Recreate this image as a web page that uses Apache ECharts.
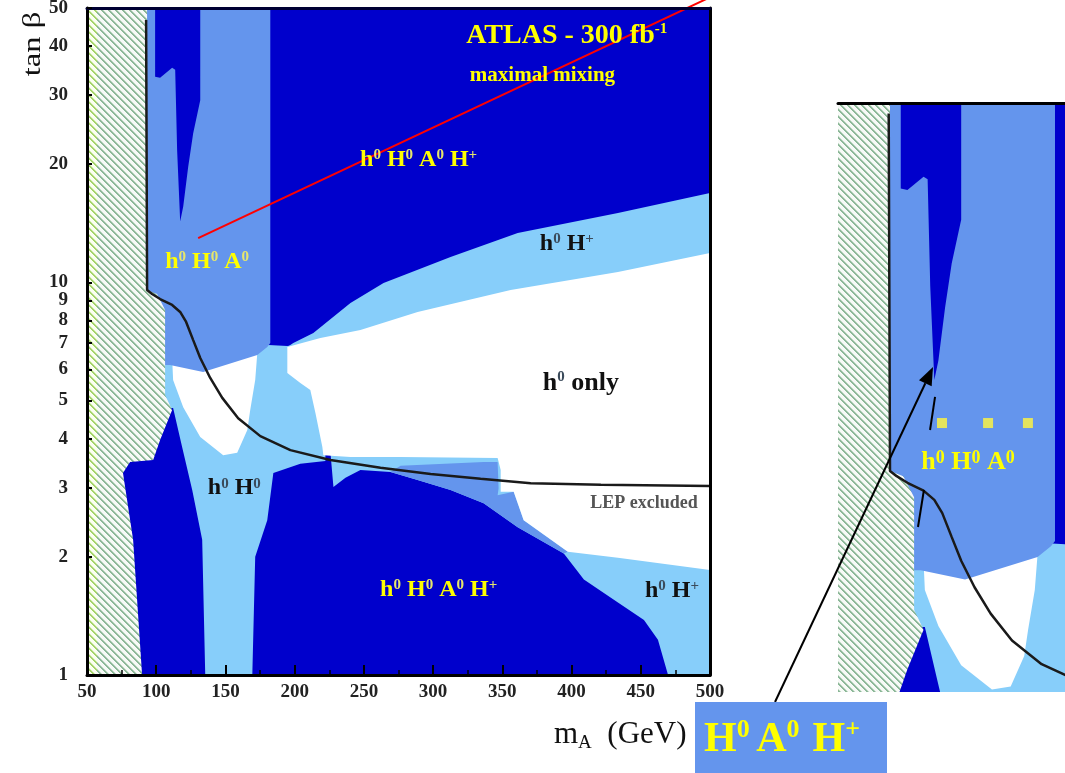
<!DOCTYPE html>
<html><head><meta charset="utf-8">
<script src="https://cdn.jsdelivr.net/npm/echarts@6/dist/echarts.min.js"></script>
<style>html,body{margin:0;padding:0;background:#fff}#c{width:1065px;height:773px}</style>
</head><body><div id="c"></div>
<script>
// ---------------- data (mA in GeV, tan beta) ----------------
const yTickValues = [1,2,3,4,5,6,7,8,9,10,20,30,40,50];

const regionLightUpper = [[500,16.89],[433.5,15.02],[361.1,13.36],[312.6,11.60],[264.2,9.96],[240.3,8.86],[213.5,7.43],[199.0,7.01],[194.7,6.85],[194.7,5.6],[500,5.6]];
const regionLightLeft = [[102.8,6.27],[171.5,6.57],[181.0,6.93],[194.7,6.89],[222.2,7.13],[222.2,3.51],[204.1,3.45],[184.6,3.27],[180.2,2.48],[171.5,2.00],[169.4,1],[135.4,1],[133.2,2.21],[126.0,2.96],[118.7,3.81],[112.2,4.79],[102.8,4.79]];
const regionWhiteLeft = [[111.5,6.4],[173.0,6.6],[171.5,5.64],[167.9,4.73],[165.8,4.21],[158.5,3.68],[148.4,3.63],[131.8,4.04],[119.5,4.81],[112.2,5.64]];
const regionMediumUpper = [[88,50],[182.4,50],[182.4,7.01],[180.2,6.85],[173.0,6.53],[133.9,5.91],[110.0,6.16],[88,6.16]];
const regionDarkSpike = [[99.2,50],[99.2,33.4],[102.8,33.2],[111.5,35.2],[113.7,34.8],[115.1,21.7],[117.3,14.3],[119.5,15.6],[123.1,19.7],[126.7,24.0],[131.8,29.1],[131.8,50]];
const regionLightRight = [[225.8,3.7],[346.6,3.7],[500,3.14],[500,1],[469.7,1],[462.4,1.23],[452.3,1.38],[433.5,1.53],[408.9,1.75],[394.4,2.04],[361.1,2.38],[336.5,2.74],[312.6,2.96],[288.8,3.14],[269.2,3.29],[247.5,3.33],[236.7,3.18],[228.0,3.01]];
const regionMediumSliver = [[276.5,3.41],[336.5,3.49],[346.6,3.49],[347.3,2.99],[346.6,2.87],[358.2,2.93],[365.4,2.48],[397.3,2.06],[394.4,2.04],[361.1,2.38],[336.5,2.74],[312.6,2.96],[288.8,3.14],[269.2,3.29]];
const regionWhite = [[194.7,6.85],[218.6,7.22],[247.5,7.56],[288.8,8.41],[356.0,9.56],[433.5,10.63],[500,11.88],[500,1.85],[433.5,1.99],[397.3,2.06],[365.4,2.48],[358.2,2.93],[348.8,2.93],[348.8,3.33],[346.6,3.57],[276.5,3.59],[240.3,3.59],[220.7,3.63],[220.0,3.81],[215.0,4.65],[211.3,5.32],[204.1,5.54],[194.7,5.88]];
const regionLepHatch = [[50,50],[93.4,50],[93.4,9.56],[100.6,9.34],[106.4,8.51],[106.4,5.17],[111.5,4.73],[102.8,3.97],[97.8,3.53],[81.1,3.49],[76.0,3.27],[83.3,2.21],[89.8,1],[50,1]];
const regionHatchStrip = [[50,50],[57.2,50],[57.2,1],[50,1]];

const lepCurve = [[92.7,46.6],[93.4,9.56],[97.0,9.34],[102.8,9.07],[111.5,8.76],[117.3,8.41],[121.6,7.93],[126.7,7.13],[131.8,6.42],[139.0,5.71],[147.7,5.08],[159.2,4.51],[175.2,4.06],[196.9,3.74],[225.8,3.53],[262.0,3.37],[298.2,3.25],[334.3,3.16],[370.5,3.08],[421.2,3.05],[500,3.03]];
const redLine = [[130.3,12.97],[508,54.9]];

const mainLabelPos = [[396.5,42.4],[379,33.6],[289.5,20.5],[136.8,11.27],[396.6,12.53],[406.7,5.54],[452.3,2.74],[156.4,2.99],[304.0,1.646],[472.5,1.637]];
const mainLabelText = ['ATLAS - 300 fb^{-1}','maximal mixing','h^{0} H^{0} A^{0} H^{+}','h^{0} H^{0} A^{0}','h^{0} H^{+}','h^{0} only','LEP excluded','h^{0} H^{0}','h^{0} H^{0} A^{0} H^{+}','h^{0} H^{+}'];

const insetLabelPos = [[135.5,9.95]];
const insetLabelText = ['h^{0} H^{0} A^{0}'];
const insetDots = [[121.45,11.82],[146.3,11.82],[167.8,11.82]];
const insetMarks = [[117.7,13.27,115.0,11.46],[111.7,8.786,108.5,7.457]];
const insetArrow = [[31.37,3.435,116.6,15.15]];

// ---------------- styling ----------------
const FONT = 'Liberation Serif';
const DARK = '#0000cc', MED = '#6495ed', LIGHT = '#87cefa', WHITE = '#ffffff';
function hatch(c1, c2, bg) {
  const n = 7, cv = document.createElement('canvas'); cv.width = n; cv.height = n;
  const g = cv.getContext('2d'); g.fillStyle = bg; g.fillRect(0, 0, n, n);
  for (let i = 0; i < n; i++) {
    g.fillStyle = c1; g.fillRect(i, i, 1, 1); g.fillRect((i + 1) % n, i, 1, 1);
    g.fillStyle = c2; g.fillRect((i + 2) % n, i, 1, 1);
  }
  return cv;
}
const hatchFill = {image: hatch('#8cb898', '#c8dccb', '#f7faf7'), repeat: 'repeat'};
const stripFill = {image: hatch('#a4d46a', '#dcefbd', '#fbfff2'), repeat: 'repeat'};

const regions = [
  {pts: regionLightUpper, fill: LIGHT},
  {pts: regionLightLeft, fill: LIGHT},
  {pts: regionWhiteLeft, fill: WHITE},
  {pts: regionMediumUpper, fill: MED},
  {pts: regionDarkSpike, fill: DARK},
  {pts: regionLightRight, fill: LIGHT},
  {pts: regionMediumSliver, fill: MED},
  {pts: regionWhite, fill: WHITE},
  {pts: regionLepHatch, fill: hatchFill},
  {pts: regionHatchStrip, fill: stripFill}
];

const Y = '#ffff00', YS = '#e6e66c', K = '#111111', KS = '#3b4b5b';
const mainLabelStyle = [
  {c: Y, sc: Y, f: 28, sf: 15},
  {c: Y, f: 21},
  {c: Y, sc: YS, f: 24, sf: 15},
  {c: Y, sc: YS, f: 24, sf: 15},
  {c: K, sc: KS, f: 24, sf: 15},
  {c: K, sc: KS, f: 26, sf: 15},
  {c: '#555555', f: 18},
  {c: K, sc: KS, f: 24, sf: 15},
  {c: Y, sc: YS, f: 24, sf: 15},
  {c: K, sc: KS, f: 24, sf: 15}
];
const insetLabelStyle = [{c: Y, sc: Y, f: 26, sf: 18}];

function toRich(s) {
  const parts = s.split(/\^\{([^}]*)\}/);
  return parts.map((t, i) => t === '' ? '' : (i % 2 ? '{s|' + t + '}' : '{b|' + t + '}')).join('');
}

function regionRender(params, api) {
  const r = regions[params.dataIndex];
  return {type: 'polygon', z2: params.dataIndex,
    shape: {points: r.pts.map(p => api.coord(p))},
    style: {fill: r.fill}};
}
function labelRender(texts, styles) {
  return function (params, api) {
    const i = params.dataIndex, st = styles[i];
    const p = api.coord([api.value(0), api.value(1)]);
    const sf = st.sf || st.f;
    return {type: 'text', x: p[0], y: p[1], z2: 50,
      style: {text: toRich(texts[i]), align: 'center', verticalAlign: 'middle',
        rich: {
          b: {fill: st.c, fontSize: st.f, fontWeight: 'bold', fontFamily: FONT, lineHeight: st.f},
          s: {fill: st.sc || st.c, fontSize: sf, fontWeight: 'bold', fontFamily: FONT, lineHeight: sf, verticalAlign: 'top'}
        }}};
  };
}
function segRender(params, api) {
  const a = api.coord([api.value(0), api.value(1)]), b = api.coord([api.value(2), api.value(3)]);
  return {type: 'line', shape: {x1: a[0], y1: a[1], x2: b[0], y2: b[1]}, style: {stroke: '#000', lineWidth: 2}};
}
function arrowRender(params, api) {
  const a = api.coord([api.value(0), api.value(1)]), b = api.coord([api.value(2), api.value(3)]);
  const dx = b[0] - a[0], dy = b[1] - a[1], L = Math.hypot(dx, dy), ux = dx / L, uy = dy / L, h = 18, w = 7;
  const base = [b[0] - ux * h, b[1] - uy * h];
  return {type: 'group', children: [
    {type: 'line', shape: {x1: a[0], y1: a[1], x2: base[0], y2: base[1]}, style: {stroke: '#000', lineWidth: 2}},
    {type: 'polygon', shape: {points: [b, [base[0] - uy * w, base[1] + ux * w], [base[0] + uy * w, base[1] - ux * w]]}, style: {fill: '#000'}}
  ]};
}
function dotRender(params, api) {
  const p = api.coord([api.value(0), api.value(1)]);
  return {type: 'rect', shape: {x: p[0] - 5, y: p[1] - 5, width: 10, height: 10}, style: {fill: '#e4e45e'}};
}

const axisLbl = {fontFamily: FONT, fontSize: 19, fontWeight: 'bold', color: '#222'};
const noAxisExtras = {axisTick: {show: false}, axisLabel: {show: false}, splitLine: {show: false}};

const option = {
  backgroundColor: '#ffffff',
  animation: false,
  grid: [
    {left: 87, top: 8, width: 623, height: 667, show: true, backgroundColor: DARK, borderWidth: 0, outerBoundsMode: 'none', containLabel: false},
    {left: 838, top: 103, width: 227, height: 589, show: true, backgroundColor: DARK, borderWidth: 0, outerBoundsMode: 'none', containLabel: false}
  ],
  xAxis: [
    {gridIndex: 0, type: 'value', min: 50, max: 500, interval: 50, position: 'bottom', z: 20,
      axisLine: {onZero: false, lineStyle: {color: '#000', width: 3}},
      axisTick: {inside: true, length: 10, lineStyle: {color: '#000', width: 2}},
      minorTick: {show: true, splitNumber: 2, length: 5, lineStyle: {color: '#000', width: 1.5}},
      axisLabel: Object.assign({margin: 8}, axisLbl),
      splitLine: {show: false}, minorSplitLine: {show: false}},
    Object.assign({gridIndex: 0, type: 'value', min: 50, max: 500, position: 'top', z: 20,
      axisLine: {onZero: false, lineStyle: {color: '#000033', width: 3}}}, noAxisExtras),
    Object.assign({gridIndex: 1, type: 'value', min: 65.35, max: 187.8, position: 'top', z: 20,
      axisLine: {onZero: false, lineStyle: {color: '#000', width: 3}}}, noAxisExtras)
  ],
  yAxis: [
    {gridIndex: 0, type: 'log', logBase: 10, min: 1, max: 50, position: 'left', z: 20,
      axisLine: {onZero: false, lineStyle: {color: '#000', width: 3}},
      axisTick: {inside: true, length: 5, customValues: yTickValues, lineStyle: {color: '#000', width: 2}},
      axisLabel: Object.assign({margin: 19, customValues: yTickValues}, axisLbl),
      splitLine: {show: false}, minorTick: {show: false}},
    Object.assign({gridIndex: 0, type: 'log', logBase: 10, min: 1, max: 50, position: 'right', z: 20,
      axisLine: {onZero: false, lineStyle: {color: '#000', width: 3}}}, noAxisExtras),
    {gridIndex: 1, type: 'log', logBase: 10, min: 3.59, max: 48.8, show: false}
  ],
  series: [
    {type: 'custom', name: 'regions', xAxisIndex: 0, yAxisIndex: 0, clip: true, z: 2, silent: true,
      data: regions.map(r => r.pts[0]), encode: {x: 0, y: 1}, renderItem: regionRender},
    {type: 'line', name: 'LEP', xAxisIndex: 0, yAxisIndex: 0, data: lepCurve, symbol: 'none', clip: true, z: 5,
      lineStyle: {color: '#1a1a1a', width: 2.5}, silent: true},
    {type: 'line', name: 'red', xAxisIndex: 0, yAxisIndex: 0, data: redLine, symbol: 'none', clip: false, z: 6,
      lineStyle: {color: '#ff0000', width: 2}, silent: true},
    {type: 'custom', name: 'labels', xAxisIndex: 0, yAxisIndex: 0, clip: false, z: 10, silent: true,
      data: mainLabelPos, encode: {x: 0, y: 1}, renderItem: labelRender(mainLabelText, mainLabelStyle)},

    {type: 'custom', name: 'insetRegions', xAxisIndex: 2, yAxisIndex: 2, clip: true, z: 2, silent: true,
      data: regions.map(r => r.pts[0]), encode: {x: 0, y: 1}, renderItem: regionRender},
    {type: 'line', name: 'insetLEP', xAxisIndex: 2, yAxisIndex: 2, data: lepCurve, symbol: 'none', clip: true, z: 5,
      lineStyle: {color: '#1a1a1a', width: 2.5}, silent: true},
    {type: 'custom', name: 'insetMarks', xAxisIndex: 2, yAxisIndex: 2, clip: false, z: 6, silent: true,
      data: insetMarks, encode: {x: [0, 2], y: [1, 3]}, renderItem: segRender},
    {type: 'custom', name: 'insetDots', xAxisIndex: 2, yAxisIndex: 2, clip: true, z: 6, silent: true,
      data: insetDots, encode: {x: 0, y: 1}, renderItem: dotRender},
    {type: 'custom', name: 'insetLabels', xAxisIndex: 2, yAxisIndex: 2, clip: false, z: 10, silent: true,
      data: insetLabelPos, encode: {x: 0, y: 1}, renderItem: labelRender(insetLabelText, insetLabelStyle)},
    {type: 'custom', name: 'arrow', xAxisIndex: 2, yAxisIndex: 2, clip: false, z: 12, silent: true,
      data: insetArrow, encode: {x: [0, 2], y: [1, 3]}, renderItem: arrowRender}
  ],
  graphic: [
    {type: 'text', x: 33, y: 44, rotation: Math.PI / 2, scaleX: 1.25, z: 30,
      style: {text: 'tan β', fontFamily: FONT, fontSize: 26, fill: '#111', align: 'center', verticalAlign: 'middle'}},
    {type: 'text', x: 554, y: 735, z: 30,
      style: {text: '{m|m}{a|A}{m|  (GeV)}', align: 'left', verticalAlign: 'middle',
        rich: {m: {fontFamily: FONT, fontSize: 31, fill: '#111', lineHeight: 36},
               a: {fontFamily: FONT, fontSize: 19, fill: '#111', lineHeight: 36, verticalAlign: 'bottom'}}}},
    {type: 'rect', z: 25, shape: {x: 695, y: 702, width: 192, height: 71}, style: {fill: MED}},
    {type: 'text', x: 704, y: 740, z: 26,
      style: {text: '{H|H}{s|0}{g| }{H|A}{s|0}{g|  }{H|H}{s|+}', align: 'left', verticalAlign: 'middle',
        rich: {H: {fontFamily: FONT, fontSize: 42, fontWeight: 'bold', fill: '#ffff00', lineHeight: 46},
               g: {fontFamily: FONT, fontSize: 26, lineHeight: 26},
               s: {fontFamily: FONT, fontSize: 26, fontWeight: 'bold', fill: '#ffff00', lineHeight: 26, verticalAlign: 'top'}}}}
  ]
};
const chart = echarts.init(document.getElementById('c'), null, {renderer: 'canvas', width: 1065, height: 773});
chart.setOption(option);
</script>
</body></html>
